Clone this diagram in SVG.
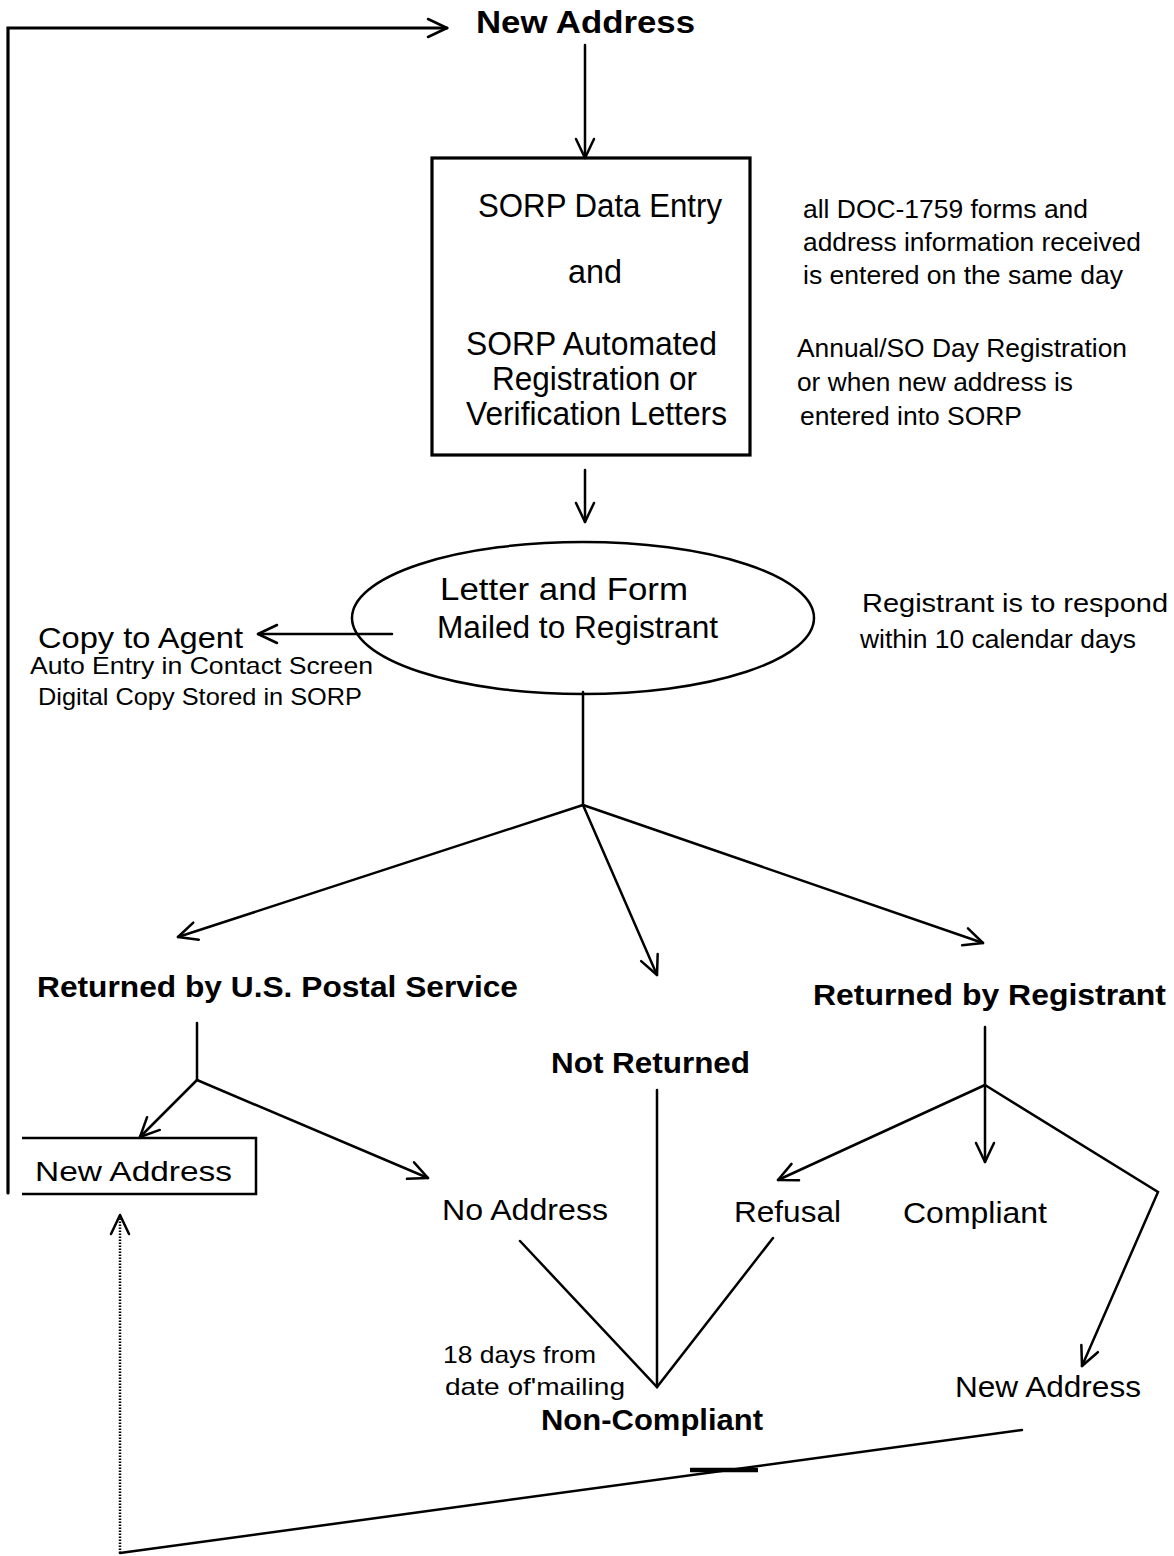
<svg xmlns="http://www.w3.org/2000/svg" width="1174" height="1556" viewBox="0 0 1174 1556">
<style>
text{font-family:"Liberation Sans",Arial,sans-serif;fill:#000}
.b{font-weight:bold}
.ln{fill:none;stroke:#000;stroke-width:2.5;stroke-linecap:round}
.thick{stroke-width:3.2}
</style>
<defs>
<marker id="ar" viewBox="0 0 24 24" markerWidth="24" markerHeight="24" refX="22" refY="12" orient="auto" markerUnits="userSpaceOnUse">
<path d="M3,3 L22,12 L3,21" fill="none" stroke="#000" stroke-width="2.5" stroke-linejoin="round" stroke-linecap="round"/>
</marker>
</defs>
<rect width="1174" height="1556" fill="#fff"/>

<g id="connectors">
<path class="ln thick" d="M8,1193 V28 H447" marker-end="url(#ar)"/>
<path class="ln" d="M585,45 V158" marker-end="url(#ar)"/>
<path class="ln" d="M585,470 V522" marker-end="url(#ar)"/>
<path class="ln" d="M392,634 H258" marker-end="url(#ar)"/>
<path class="ln" d="M583,692 V805"/>
<path class="ln" d="M583,805 L178,937" marker-end="url(#ar)"/>
<path class="ln" d="M583,805 L657,975" marker-end="url(#ar)"/>
<path class="ln" d="M583,805 L983,943" marker-end="url(#ar)"/>
<path class="ln" d="M197,1023 V1080"/>
<path class="ln" d="M197,1080 L140,1137" marker-end="url(#ar)"/>
<path class="ln" d="M197,1080 L428,1178" marker-end="url(#ar)"/>
<path class="ln" d="M657,1090 V1387"/>
<path class="ln" d="M520,1241 L657,1387 L773,1238"/>
<path class="ln" d="M985,1027 V1085"/>
<path class="ln" d="M985,1085 V1162" marker-end="url(#ar)"/>
<path class="ln" d="M985,1085 L778,1180" marker-end="url(#ar)"/>
<path class="ln" d="M985,1085 L1158,1192 L1082,1366" marker-end="url(#ar)"/>
<path class="ln" d="M120,1553 V1215" stroke-dasharray="1.5,1.5" style="stroke-linecap:butt" marker-end="url(#ar)"/>
<path class="ln" d="M120,1553 L1022,1430"/>
<path class="ln" d="M690,1470 H758" style="stroke-width:4.5;stroke-linecap:butt"/>
</g>

<g id="n-top-new-address">
<text class="b" x="476" y="33" font-size="31" textLength="219" lengthAdjust="spacingAndGlyphs">New  Address</text>
</g>

<g id="n-sorp-box">
<rect x="432" y="158" width="318" height="297" fill="none" stroke="#000" stroke-width="3.2"/>
<text x="478" y="217" font-size="33" textLength="244" lengthAdjust="spacingAndGlyphs">SORP Data Entry</text>
<text x="568" y="283" font-size="33" textLength="54" lengthAdjust="spacingAndGlyphs">and</text>
<text x="466" y="355" font-size="33" textLength="251" lengthAdjust="spacingAndGlyphs">SORP Automated</text>
<text x="492" y="390" font-size="33" textLength="205" lengthAdjust="spacingAndGlyphs">Registration or</text>
<text x="466" y="425" font-size="33" textLength="261" lengthAdjust="spacingAndGlyphs">Verification Letters</text>
</g>

<g id="n-note-entry">
<text x="803" y="218" font-size="25" textLength="285" lengthAdjust="spacingAndGlyphs">all  DOC-1759  forms  and</text>
<text x="803" y="251" font-size="25" textLength="338" lengthAdjust="spacingAndGlyphs">address information received</text>
<text x="803" y="284" font-size="25" textLength="320" lengthAdjust="spacingAndGlyphs">is entered on the same day</text>
</g>

<g id="n-note-annual">
<text x="797" y="357" font-size="25" textLength="330" lengthAdjust="spacingAndGlyphs">Annual/SO Day Registration</text>
<text x="797" y="391" font-size="25" textLength="276" lengthAdjust="spacingAndGlyphs">or when new address is</text>
<text x="800" y="425" font-size="25" textLength="222" lengthAdjust="spacingAndGlyphs">entered into SORP</text>
</g>

<g id="n-mailed">
<ellipse cx="583" cy="618" rx="231" ry="76" fill="none" stroke="#000" stroke-width="2.5"/>
<text x="440" y="600" font-size="31" textLength="248" lengthAdjust="spacingAndGlyphs">Letter and Form</text>
<text x="437" y="638" font-size="31" textLength="281" lengthAdjust="spacingAndGlyphs">Mailed to Registrant</text>
</g>

<g id="n-copy-agent">
<text x="38" y="648" font-size="29" textLength="205" lengthAdjust="spacingAndGlyphs">Copy  to  Agent</text>
<text x="30" y="674" font-size="24" textLength="343" lengthAdjust="spacingAndGlyphs">Auto Entry in Contact Screen</text>
<text x="38" y="705" font-size="24" textLength="324" lengthAdjust="spacingAndGlyphs">Digital Copy Stored in SORP</text>
</g>

<g id="n-note-respond">
<text x="862" y="612" font-size="25" textLength="306" lengthAdjust="spacingAndGlyphs">Registrant is to respond</text>
<text x="860" y="648" font-size="25" textLength="276" lengthAdjust="spacingAndGlyphs">within 10 calendar days</text>
</g>

<g id="n-usps">
<text class="b" x="37" y="997" font-size="29" textLength="481" lengthAdjust="spacingAndGlyphs">Returned by U.S. Postal Service</text>
</g>
<g id="n-not-returned">
<text class="b" x="551" y="1073" font-size="30" textLength="199" lengthAdjust="spacingAndGlyphs">Not Returned</text>
</g>
<g id="n-by-registrant">
<text class="b" x="813" y="1005" font-size="30" textLength="353" lengthAdjust="spacingAndGlyphs">Returned by Registrant</text>
</g>

<g id="n-new-address-box">
<path d="M22,1138 H256 V1194 H22" fill="none" stroke="#000" stroke-width="2.5"/>
<text x="35" y="1181" font-size="28" textLength="197" lengthAdjust="spacingAndGlyphs">New  Address</text>
</g>

<g id="n-no-address"><text x="442" y="1220" font-size="29" textLength="166" lengthAdjust="spacingAndGlyphs">No Address</text></g>
<g id="n-refusal"><text x="734" y="1222" font-size="29" textLength="107" lengthAdjust="spacingAndGlyphs">Refusal</text></g>
<g id="n-compliant"><text x="903" y="1223" font-size="29" textLength="144" lengthAdjust="spacingAndGlyphs">Compliant</text></g>

<g id="n-18days">
<text x="443" y="1363" font-size="24" textLength="153" lengthAdjust="spacingAndGlyphs">18 days from</text>
<text x="445" y="1395" font-size="24" textLength="180" lengthAdjust="spacingAndGlyphs">date of'mailing</text>
</g>
<g id="n-non-compliant"><text class="b" x="541" y="1430" font-size="29" textLength="222" lengthAdjust="spacingAndGlyphs">Non-Compliant</text></g>
<g id="n-new-address-right"><text x="955" y="1397" font-size="29" textLength="186" lengthAdjust="spacingAndGlyphs">New Address</text></g>
</svg>
